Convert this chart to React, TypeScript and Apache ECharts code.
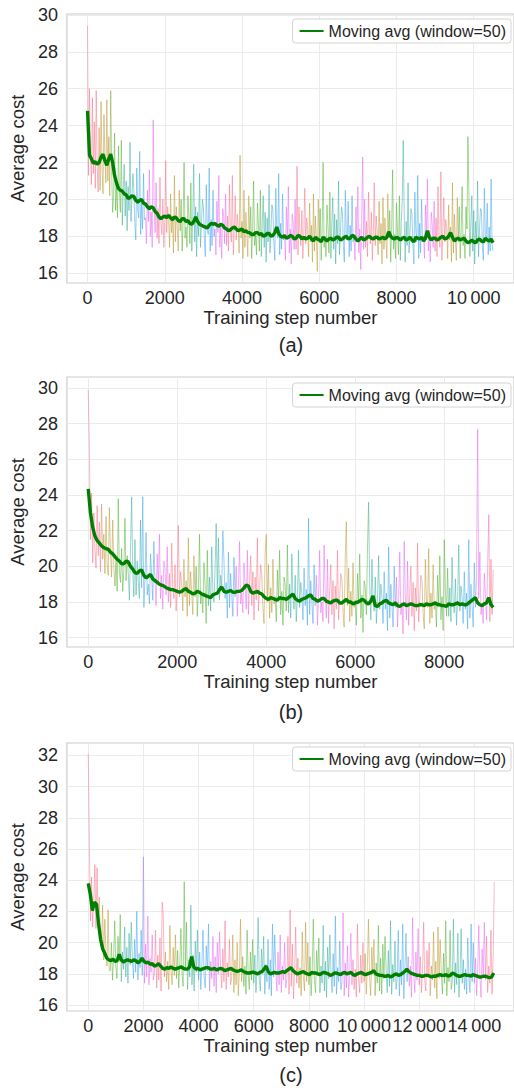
import React, { useEffect, useRef } from "react";
import * as echarts from "echarts";

const FONT = "Liberation Sans, Arial, sans-serif";
const TEXT = "#262626";
const LEGEND_NAME = "Moving avg (window=50)";
const MA_COLOR = "#008000";
// husl palette used for the raw per-chunk traces
const PALETTE = ["#f77189", "#bb9832", "#50b131", "#36ada4", "#3ba3ec", "#e866f4"];

// ---------- panel (a) ----------
// raw cost every 25 steps; one row per colour chunk
const RAW_A_STEP = 25;
const RAW_A = [
  29.4, 21.3, 26.0, 22.6, 20.8, 25.5, 21.4, 24.2, 20.6, 25.9, 21.8, 20.4,
  23.9, 20.5, 25.3, 21.7, 20.3, 24.6, 22.2, 20.9, 25.4, 21.0, 23.4, 20.2,
  25.9, 21.5, 19.3, 20.3, 23.6, 19.4, 20.8, 19.0, 22.9, 20.5, 19.3, 23.2,
  18.6, 20.5, 21.9, 19.1, 21.0, 18.3, 20.7, 19.4, 23.1, 18.8, 20.1, 21.4,
  20.5, 18.7, 17.8, 21.7, 19.4, 19.0, 22.6, 18.1, 19.8, 18.4, 21.4, 18.9,
  19.0, 17.6, 20.5, 18.8, 21.6, 18.0, 19.3, 17.4, 24.3, 19.7, 18.2, 20.9,
  17.9, 19.5, 17.6, 21.2, 18.7, 18.1, 20.0, 17.4, 18.8, 22.1, 18.2, 19.6,
  18.9, 17.4, 20.3, 18.2, 19.1, 17.1, 21.3, 17.7, 19.6, 18.4, 17.2, 20.5,
  18.3, 20.0, 17.2, 18.8, 22.0, 17.9, 18.5, 17.4, 20.2, 19.0, 17.6, 20.9,
  17.2, 19.1, 21.9, 17.7, 19.6, 16.9, 19.3, 18.0, 21.4, 17.4, 18.7, 20.0,
  19.6, 17.8, 16.9, 20.8, 18.5, 18.1, 21.7, 17.2, 18.9, 17.5, 20.5, 18.0,
  18.4, 17.0, 19.9, 18.2, 21.3, 17.4, 18.7, 16.8, 19.5, 19.1, 17.6, 20.3,
  17.5, 19.1, 17.2, 20.8, 18.3, 17.7, 21.3, 17.0, 18.4, 20.2, 17.8, 19.2,
  18.6, 17.1, 22.4, 17.9, 18.8, 16.8, 20.5, 17.4, 19.3, 18.1, 16.9, 20.2,
  17.9, 19.6, 16.8, 18.4, 21.0, 17.5, 18.1, 17.0, 19.8, 18.6, 17.2, 20.5,
  16.9, 18.8, 20.2, 17.4, 19.3, 16.6, 19.0, 17.7, 20.8, 17.1, 18.4, 19.7,
  19.4, 17.6, 16.7, 20.6, 18.3, 17.9, 21.4, 17.0, 18.7, 17.3, 20.3, 17.8,
  18.1, 16.7, 19.6, 17.9, 20.7, 17.1, 18.4, 16.5, 19.2, 18.8, 17.3, 20.0,
  17.3, 21.8, 17.0, 19.6, 18.1, 17.5, 19.4, 16.8, 18.2, 20.6, 17.6, 19.0,
  18.4, 16.9, 19.8, 17.7, 18.6, 16.6, 20.3, 17.2, 19.1, 17.9, 16.1, 20.0,
  17.8, 19.5, 16.7, 18.3, 22.0, 17.4, 18.0, 16.9, 19.7, 18.5, 17.1, 20.4,
  16.8, 18.7, 20.1, 17.3, 19.2, 16.5, 18.9, 17.6, 21.0, 17.0, 18.3, 19.6,
  19.3, 17.5, 16.6, 20.5, 18.2, 17.8, 19.9, 16.9, 18.6, 17.2, 20.2, 17.7,
  18.1, 16.7, 19.6, 17.9, 20.7, 17.1, 18.4, 16.2, 19.2, 22.3, 17.3, 20.0,
  17.4, 18.8, 16.9, 20.4, 18.2, 17.6, 19.3, 16.7, 18.3, 20.9, 17.5, 19.1,
  18.3, 17.0, 19.9, 17.6, 18.7, 16.5, 20.1, 17.3, 19.0, 17.8, 16.8, 20.3,
  17.9, 19.4, 16.6, 18.4, 21.6, 17.3, 18.1, 16.8, 19.8, 18.4, 17.0, 20.2,
  16.7, 18.8, 20.0, 23.2, 19.1, 16.6, 18.8, 17.5, 20.9, 17.1, 18.2, 19.5,
  19.2, 17.6, 16.5, 20.4, 18.3, 17.7, 21.3, 16.8, 18.7, 17.1, 20.0, 17.8,
  18.0, 16.8, 19.7, 17.8, 21.1, 17.2, 18.3, 16.6, 19.3, 18.7, 17.4, 19.9,
  17.2, 19.0, 16.9, 20.7, 18.0, 17.4, 21.5, 16.7, 18.3, 20.1, 17.7, 18.9,
  18.5, 16.8, 19.7, 17.8, 18.5, 16.6, 20.9, 17.1, 19.2, 17.8, 16.7, 20.1,
  17.7, 19.6, 16.8, 18.2, 20.7, 17.5, 18.1, 16.8, 19.6, 18.4, 23.4, 20.3,
  16.9, 18.6, 20.2, 17.2, 19.4, 16.5, 18.8, 17.7, 21.0, 16.9, 18.4, 19.5,
  19.4, 17.4, 16.7, 20.6, 18.1, 17.9, 19.8, 17.0, 18.5, 17.2, 21.1, 17.6,
  17.2,
];
// moving average every 50 steps
const MA_A_STEP = 50;
const MA_A = [
  24.8, 22.4, 22.2, 21.95, 22.05, 21.9, 22.0, 22.3, 22.45, 22.1,
  21.85, 22.2, 22.45, 22.0, 21.3, 20.9, 20.6, 20.5, 20.45, 20.3,
  20.25, 20.05, 20.1, 20.2, 20.15, 19.95, 19.85, 19.95, 20.0, 19.8,
  19.75, 19.6, 19.5, 19.6, 19.55, 19.35, 19.25, 19.05, 18.95, 19.05,
  19.1, 19.0, 19.15, 19.0, 18.9, 19.05, 19.0, 18.85, 18.8, 18.95,
  18.95, 18.8, 18.85, 18.7, 18.65, 18.8, 19.05, 18.8, 18.65, 18.6,
  18.55, 18.5, 18.45, 18.6, 18.7, 18.65, 18.7, 18.6, 18.55, 18.65,
  18.6, 18.45, 18.4, 18.3, 18.35, 18.45, 18.5, 18.4, 18.3, 18.35,
  18.4, 18.25, 18.3, 18.2, 18.2, 18.1, 18.1, 18.2, 18.2, 18.1,
  18.15, 18.0, 18.05, 18.15, 18.15, 18.0, 18.05, 18.2, 18.5, 18.15,
  18.0, 17.95, 18.05, 17.9, 17.95, 18.05, 18.0, 17.85, 17.9, 18.05,
  18.0, 17.85, 17.95, 17.85, 17.9, 18.0, 17.85, 17.75, 17.95, 17.85,
  17.8, 17.7, 17.95, 17.85, 17.75, 17.85, 17.9, 17.8, 17.85, 17.95,
  17.95, 17.8, 17.85, 17.95, 18.0, 17.85, 17.9, 18.05, 18.0, 17.85,
  17.75, 17.85, 17.95, 17.8, 17.85, 17.95, 18.0, 17.9, 17.85, 17.95,
  17.95, 17.85, 17.9, 17.95, 17.85, 17.95, 18.25, 18.0, 17.9, 17.85,
  17.95, 17.9, 17.8, 17.9, 17.95, 17.8, 17.85, 17.95, 17.8, 17.7,
  17.95, 17.9, 17.85, 17.95, 17.75, 17.9, 18.3, 17.95, 17.8, 17.9,
  17.9, 17.8, 17.85, 17.95, 18.0, 17.85, 17.9, 18.0, 18.2, 17.95,
  17.75, 17.85, 17.9, 17.8, 17.85, 17.9, 17.75, 17.65, 17.7, 17.8,
  17.7, 17.65, 17.8, 17.85, 17.75, 17.7, 17.9, 17.8, 17.75, 17.85, 17.65,
];
const X_TICKS_A = [0, 2000, 4000, 6000, 8000, 10000];
const Y_TICKS_A = [16, 18, 20, 22, 24, 26, 28, 30];

// ---------- panel (b) ----------
const RAW_B_STEP = 25;
const RAW_B = [
  29.9, 26.7, 21.5, 24.1, 20.2, 23.0, 21.0, 19.9, 23.4, 20.6, 22.5, 19.7,
  23.5, 20.4, 21.8, 19.6, 22.8, 20.1, 19.5, 23.3, 20.8, 19.4, 22.6, 20.0,
  18.9, 20.5, 18.6, 23.8, 19.7, 19.1, 21.0, 18.6, 19.8, 22.7, 19.2, 20.6,
  19.6, 18.1, 21.0, 23.9, 19.8, 18.3, 21.5, 18.4, 20.3, 19.1, 18.2, 22.6,
  18.8, 23.9, 17.7, 19.3, 21.9, 18.4, 19.0, 17.9, 20.7, 19.5, 18.1, 21.4,
  19.2, 17.8, 20.7, 19.0, 21.8, 18.2, 19.5, 17.6, 20.3, 19.9, 18.4, 21.1,
  18.0, 19.6, 17.7, 21.3, 18.8, 18.2, 20.1, 17.5, 18.9, 22.3, 18.3, 19.7,
  19.0, 17.5, 20.4, 18.3, 19.2, 17.2, 21.6, 17.8, 19.7, 18.5, 17.3, 20.6,
  18.3, 20.0, 17.2, 18.8, 21.8, 17.9, 18.5, 17.4, 20.2, 19.0, 16.8, 20.9,
  17.8, 19.4, 17.5, 21.1, 18.6, 18.0, 19.9, 22.4, 18.7, 21.6, 18.1, 19.5,
  18.9, 22.0, 20.3, 18.2, 19.1, 17.1, 20.8, 17.7, 19.6, 18.4, 17.2, 20.5,
  18.3, 20.0, 17.2, 18.8, 21.4, 17.9, 18.5, 17.4, 20.2, 19.0, 17.6, 20.9,
  17.3, 19.2, 20.6, 17.8, 19.7, 17.0, 19.4, 18.1, 21.6, 17.5, 18.8, 20.1,
  19.5, 17.7, 16.8, 20.7, 21.8, 18.0, 20.1, 17.1, 18.8, 17.4, 20.4, 17.9,
  18.3, 16.9, 19.8, 18.1, 20.9, 17.3, 18.6, 16.7, 19.4, 19.0, 17.5, 21.2,
  17.4, 19.0, 17.1, 20.7, 18.2, 17.6, 19.5, 16.9, 18.3, 20.9, 17.7, 19.1,
  18.5, 17.0, 19.9, 17.8, 18.7, 16.7, 22.7, 17.3, 19.2, 18.0, 16.8, 20.1,
  17.8, 19.5, 16.7, 18.3, 20.9, 17.4, 18.0, 16.9, 21.2, 18.5, 17.1, 20.4,
  16.8, 18.7, 20.1, 17.3, 19.2, 16.5, 18.9, 17.6, 20.9, 17.0, 18.3, 19.6,
  19.3, 17.5, 16.6, 20.5, 22.5, 17.8, 19.9, 16.9, 18.6, 17.2, 20.2, 17.7,
  18.1, 16.7, 19.6, 17.9, 20.7, 17.1, 18.4, 16.3, 19.2, 18.8, 17.3, 21.0,
  23.6, 18.9, 17.0, 20.4, 18.1, 17.5, 19.4, 16.8, 18.2, 20.6, 17.6, 19.0,
  18.3, 16.8, 19.7, 17.6, 18.5, 16.4, 21.1, 17.1, 19.0, 17.8, 16.6, 20.0,
  17.7, 19.4, 16.6, 18.2, 20.8, 17.3, 17.9, 16.2, 21.4, 18.4, 17.0, 20.3,
  16.7, 18.6, 20.0, 17.2, 19.1, 16.4, 18.8, 17.5, 21.3, 16.9, 18.2, 19.5,
  19.2, 17.4, 16.5, 20.4, 18.1, 17.7, 21.0, 16.8, 18.5, 17.1, 20.1, 17.6,
  18.0, 16.6, 19.5, 17.8, 20.6, 17.0, 18.3, 16.4, 21.5, 18.7, 17.2, 19.9,
  17.2, 18.8, 16.9, 20.5, 18.0, 17.4, 19.3, 16.7, 18.1, 21.2, 17.5, 18.9,
  18.3, 16.8, 19.7, 17.6, 18.5, 16.5, 21.5, 17.1, 19.0, 17.8, 16.6, 20.2,
  17.7, 19.4, 27.7, 18.2, 20.8, 17.3, 17.9, 16.8, 19.6, 18.4, 17.0, 20.1,
  22.9, 16.9, 20.4, 17.3, 19.8,
];
const MA_B_STEP = 50;
const MA_B = [
  24.35, 23.0, 22.2, 21.7, 21.45, 21.3, 21.15, 21.05, 21.0, 20.95,
  20.8, 20.7, 20.55, 20.4, 20.3, 20.15, 20.15, 20.3, 20.25, 20.0,
  19.85, 19.65, 19.6, 19.75, 19.8, 19.5, 19.35, 19.45, 19.55, 19.3,
  19.2, 19.1, 19.0, 18.95, 18.9, 18.8, 18.75, 18.7, 18.7, 18.65,
  18.6, 18.55, 18.6, 18.7, 18.75, 18.6, 18.55, 18.45, 18.5, 18.6,
  18.55, 18.45, 18.4, 18.35, 18.3, 18.25, 18.4, 18.45, 18.5, 18.7,
  18.85, 18.6, 18.55, 18.6, 18.65, 18.55, 18.55, 18.6, 18.6, 18.65,
  18.8, 18.95, 18.9, 18.6, 18.5, 18.55, 18.6, 18.5, 18.45, 18.3,
  18.2, 18.15, 18.25, 18.2, 18.15, 18.1, 18.25, 18.2, 18.2, 18.15,
  18.25, 18.35, 18.45, 18.2, 18.1, 18.05, 18.15, 18.2, 18.25, 18.35,
  18.4, 18.2, 18.15, 18.05, 18.1, 18.2, 18.2, 18.05, 18.0, 17.95,
  18.05, 18.1, 18.1, 17.95, 17.95, 18.05, 18.15, 18.0, 18.0, 17.9,
  17.95, 18.0, 18.05, 18.15, 18.1, 17.95, 17.9, 18.05, 18.35, 17.8,
  17.75, 17.9, 17.95, 18.05, 18.1, 17.95, 17.9, 17.85, 17.95, 17.8,
  17.75, 17.85, 17.9, 17.8, 17.85, 17.9, 17.85, 17.8, 17.8, 17.85,
  17.85, 17.8, 17.9, 17.85, 17.85, 17.9, 17.95, 17.85, 17.85, 17.8,
  17.8, 17.75, 17.9, 17.85, 17.85, 17.9, 17.95, 17.85, 17.9, 17.85,
  17.85, 17.95, 18.05, 18.15, 18.25, 17.95, 17.85, 17.8, 17.9, 17.95,
  18.25, 17.85, 17.7,
];
const X_TICKS_B = [0, 2000, 4000, 6000, 8000];
const Y_TICKS_B = [16, 18, 20, 22, 24, 26, 28, 30];

// ---------- panel (c) ----------
const RAW_C_STEP = 40;
const RAW_C = [
  32.1, 26.3, 21.4, 24.2, 21.0, 22.6, 25.0, 20.9, 24.8, 21.3,
  22.9, 20.2, 19.6, 22.4, 18.9, 21.5, 19.4, 18.5, 22.1, 18.2,
  18.2, 20.0, 17.6, 19.1, 21.4, 18.5, 17.7, 20.4, 18.8, 21.8,
  17.5, 19.4, 18.3, 21.0, 17.8, 19.7, 17.4, 20.6, 18.6, 21.3,
  19.0, 17.7, 20.2, 18.1, 22.0, 17.6, 19.3, 18.4, 20.8, 17.9,
  25.5, 17.4, 19.9, 17.8, 21.7, 17.3, 19.0, 18.1, 20.5, 17.6,
  18.0, 20.8, 17.1, 19.2, 17.6, 20.3, 16.9, 22.6, 21.8, 17.8,
  19.4, 17.5, 18.8, 17.0, 21.1, 18.2, 17.3, 19.7, 17.9, 20.5,
  17.7, 19.5, 17.1, 18.6, 20.9, 18.0, 17.2, 23.9, 18.3, 21.3,
  17.0, 18.9, 17.8, 22.4, 17.3, 19.2, 16.9, 20.1, 18.1, 20.8,
  17.6, 19.4, 17.0, 18.5, 20.8, 17.9, 17.1, 19.8, 18.2, 21.2,
  16.9, 18.8, 17.7, 20.4, 17.2, 19.1, 16.8, 20.0, 18.0, 20.7,
  18.4, 17.1, 19.6, 17.5, 21.4, 17.0, 18.7, 17.8, 20.2, 17.3,
  17.7, 20.5, 16.8, 18.9, 17.3, 20.0, 16.6, 18.2, 21.5, 17.5,
  19.1, 17.2, 18.5, 16.7, 20.8, 17.9, 17.0, 19.4, 17.6, 20.2,
  17.4, 19.2, 16.8, 18.3, 21.6, 17.7, 16.9, 19.6, 18.0, 20.4,
  16.7, 18.6, 17.5, 20.2, 17.0, 18.9, 16.6, 21.2, 17.8, 20.5,
  18.2, 16.9, 19.4, 17.3, 20.5, 16.8, 18.5, 17.6, 20.0, 17.1,
  17.6, 20.4, 16.7, 22.1, 17.2, 19.9, 16.4, 18.1, 21.0, 17.4,
  19.0, 17.1, 18.4, 16.6, 20.7, 17.8, 16.9, 21.3, 17.5, 20.0,
  17.3, 19.1, 16.6, 18.2, 21.5, 17.6, 16.8, 19.5, 17.9, 20.3,
  16.8, 18.5, 17.4, 21.1, 16.9, 18.8, 16.5, 19.7, 17.7, 20.5,
  18.1, 16.8, 19.3, 17.2, 21.7, 16.7, 18.4, 17.5, 20.1, 17.0,
  17.5, 21.9, 16.6, 18.7, 17.1, 19.8, 16.5, 18.0, 20.6, 17.3,
  18.9, 17.0, 18.3, 16.5, 21.2, 17.7, 16.8, 19.2, 17.4, 20.0,
  17.5, 19.3, 16.7, 18.4, 21.5, 17.8, 16.6, 19.7, 18.1, 20.2,
  16.6, 18.7, 17.4, 21.1, 16.9, 19.0, 16.7, 19.9, 17.7, 20.4,
  18.3, 16.8, 19.5, 17.2, 21.4, 16.7, 18.6, 17.5, 20.1, 17.0,
  17.7, 20.8, 16.6, 18.9, 17.3, 21.2, 16.4, 18.2, 20.6, 17.5,
  19.1, 17.2, 18.5, 16.5, 21.6, 17.9, 16.8, 19.4, 17.6, 20.9,
  17.3, 19.1, 16.8, 18.2, 21.3, 17.6, 16.9, 19.5, 17.9, 20.0,
  16.6, 18.5, 17.6, 20.7, 17.1, 18.8, 16.4, 21.0, 17.7, 20.2,
  18.1, 16.7, 19.3, 17.4, 21.4, 16.6, 18.4, 17.5, 20.8, 17.0,
  17.5, 21.5, 16.8, 18.7, 17.3, 20.6, 16.5, 18.0, 20.9, 17.4,
  18.9, 17.0, 18.3, 16.7, 20.3, 17.7, 16.8, 21.2, 17.5, 20.0,
  17.4, 19.0, 16.6, 18.3, 21.1, 17.8, 16.5, 19.6, 18.0, 21.3,
  17.6, 20.4, 16.8, 18.5, 17.4, 20.8, 16.7, 19.2, 23.9,
];
const MA_C_STEP = 75;
const MA_C = [
  23.8, 23.1, 22.05, 22.6, 22.45, 21.2, 20.2, 19.6, 19.3, 19.0,
  18.9, 18.85, 18.95, 18.8, 18.85, 19.25, 18.9, 18.75, 18.85, 18.9,
  18.85, 18.8, 18.9, 18.85, 18.7, 18.8, 19.0, 18.8, 18.7, 18.75,
  18.6, 18.65, 18.5, 18.55, 18.65, 18.5, 18.35, 18.3, 18.4, 18.35,
  18.45, 18.35, 18.3, 18.35, 18.4, 18.45, 18.35, 18.3, 18.3, 18.45,
  19.1, 18.45, 18.3, 18.35, 18.25, 18.3, 18.35, 18.4, 18.4, 18.3,
  18.3, 18.35, 18.25, 18.3, 18.35, 18.3, 18.2, 18.25, 18.3, 18.35,
  18.25, 18.2, 18.15, 18.2, 18.25, 18.15, 18.1, 18.05, 18.05, 18.1,
  18.1, 18.05, 18.0, 18.1, 18.15, 18.3, 18.5, 18.15, 18.0, 18.05,
  18.1, 18.05, 18.05, 18.1, 18.15, 18.1, 18.2, 18.3, 18.4, 18.2,
  18.1, 18.0, 18.05, 18.1, 18.15, 18.05, 18.0, 17.95, 18.1, 18.05,
  18.05, 18.0, 17.95, 18.05, 18.1, 18.05, 18.0, 17.9, 17.95, 18.05,
  18.05, 18.0, 17.95, 18.05, 18.1, 18.0, 18.05, 18.1, 17.95, 17.9,
  18.0, 18.05, 18.1, 18.0, 17.95, 18.0, 18.05, 18.1, 18.2, 18.0,
  17.95, 17.9, 17.9, 17.85, 17.85, 17.9, 17.8, 17.85, 17.95, 18.0,
  17.9, 17.95, 18.05, 18.15, 18.3, 18.15, 18.05, 18.0, 17.95, 17.9,
  17.9, 17.85, 17.85, 17.9, 17.9, 17.85, 17.8, 17.85, 17.85, 17.9,
  17.95, 17.9, 17.9, 17.95, 17.85, 17.9, 18.05, 18.0, 17.9, 17.85,
  17.85, 17.9, 17.95, 17.9, 17.9, 17.85, 17.95, 17.9, 17.85, 17.8,
  17.8, 17.85, 17.85, 17.8, 17.75, 17.8, 18.05,
];
const X_TICKS_C = [0, 2000, 4000, 6000, 8000, 10000, 12000, 14000];
const Y_TICKS_C = [16, 18, 20, 22, 24, 26, 28, 30, 32];

// layout of the three stacked panels
const PANELS = [
  {
    tag: "a", raw: RAW_A, rawStep: RAW_A_STEP, chunk: 12, ma: MA_A, maStep: MA_A_STEP,
    xTicks: X_TICKS_A, yTicks: Y_TICKS_A, xMin: -534, xMax: 11043, yMin: 15.47, yMax: 30.05,
    top: 14, height: 269, legendTop: 19, captionY: 345,
  },
  {
    tag: "b", raw: RAW_B, rawStep: RAW_B_STEP, chunk: 12, ma: MA_B, maStep: MA_B_STEP,
    xTicks: X_TICKS_B, yTicks: Y_TICKS_B, xMin: -479, xMax: 9567, yMin: 15.48, yMax: 30.62,
    top: 377, height: 270, legendTop: 383, captionY: 712,
  },
  {
    tag: "c", raw: RAW_C, rawStep: RAW_C_STEP, chunk: 10, ma: MA_C, maStep: MA_C_STEP,
    xTicks: X_TICKS_C, yTicks: Y_TICKS_C, xMin: -773, xMax: 15436, yMin: 15.62, yMax: 32.79,
    top: 743, height: 268, legendTop: 747, captionY: 1075,
  },
];

const formatStep = (v: number) =>
  v >= 10000 ? String(v).replace(/\B(?=(\d{3})+(?!\d))/g, "\u2009") : String(v);

function rawSeries(p: any, g: number) {
  return PALETTE.map((color, k) => ({
    type: "line",
    name: `raw-${p.tag}-${k}`,
    xAxisIndex: g,
    yAxisIndex: g,
    symbol: "none",
    silent: true,
    connectNulls: false,
    z: 6,
    lineStyle: { width: 1, color, opacity: 0.5 },
    itemStyle: { color },
    data: p.raw.map((v: number, i: number) => {
      const c = Math.floor(i / p.chunk);
      const prev = i > 0 ? Math.floor((i - 1) / p.chunk) : c;
      const own = c % PALETTE.length === k;
      const closes = c !== prev && prev % PALETTE.length === k;
      return [i * p.rawStep, own || closes ? v : "-"];
    }),
  }));
}

function buildOption() {
  const grid: any[] = [];
  const xAxis: any[] = [];
  const yAxis: any[] = [];
  const legend: any[] = [];
  const series: any[] = [];
  const graphic: any[] = [];

  PANELS.forEach((p, g) => {
    grid.push({
      left: 64, right: -5, top: p.top, height: p.height,
      show: true, borderColor: "#cccccc", borderWidth: 1.2, backgroundColor: "transparent",
    });
    xAxis.push({
      type: "value", gridIndex: g, min: p.xMin, max: p.xMax,
      axisLine: { show: false }, axisTick: { show: false }, splitLine: { show: false },
      axisLabel: {
        customValues: p.xTicks, formatter: formatStep, fontSize: 18, color: TEXT,
        fontFamily: FONT, margin: 6,
      },
      name: "Training step number", nameLocation: "middle", nameGap: 22,
      nameTextStyle: { fontSize: 18.5, color: TEXT, fontFamily: FONT },
    });
    yAxis.push({
      type: "value", gridIndex: g, min: p.yMin, max: p.yMax,
      axisLine: { show: false }, axisTick: { show: false }, splitLine: { show: false },
      axisLabel: { customValues: p.yTicks, fontSize: 18, color: TEXT, fontFamily: FONT, margin: 9 },
      name: "Average cost", nameLocation: "middle", nameGap: 36,
      nameTextStyle: { fontSize: 18.5, color: TEXT, fontFamily: FONT },
    });
    legend.push({
      data: [LEGEND_NAME], right: 3, top: p.legendTop, z: 20,
      itemWidth: 24, itemHeight: 3, itemStyle: { opacity: 0 },
      padding: [4, 5, 4, 6], borderColor: "#d4d4d4", borderWidth: 1, borderRadius: 3,
      backgroundColor: "#ffffff",
      textStyle: { fontSize: 16, color: TEXT, fontFamily: FONT },
    });
    // light grid lines behind the data
    series.push({
      type: "line", name: `grid-${p.tag}`, xAxisIndex: g, yAxisIndex: g, data: [],
      silent: true, z: 1,
      markLine: {
        silent: true, z: 1, symbol: ["none", "none"], label: { show: false },
        lineStyle: { color: "#ebebeb", width: 1, type: "solid" },
        emphasis: { disabled: true },
        data: [
          ...p.xTicks.map((x: number) => ({ xAxis: x })),
          ...p.yTicks.map((y: number) => ({ yAxis: y })),
        ],
      },
    });
    series.push(...rawSeries(p, g));
    series.push({
      type: "line", name: LEGEND_NAME, xAxisIndex: g, yAxisIndex: g,
      symbol: "none", silent: true, z: 8,
      lineStyle: { color: MA_COLOR, width: 3.4 },
      itemStyle: { color: MA_COLOR },
      data: p.ma.map((v: number, i: number) => [i * p.maStep, v]),
    });
    graphic.push({
      type: "text", x: 291, y: p.captionY,
      style: {
        text: `(${p.tag})`, fontSize: 20, fontFamily: FONT, fill: TEXT,
        align: "center", verticalAlign: "middle",
      },
    });
  });

  return {
    animation: false,
    backgroundColor: "#ffffff",
    grid, xAxis, yAxis, legend, series, graphic,
  };
}

export default function App() {
  const ref = useRef<HTMLDivElement>(null);
  useEffect(() => {
    if (!ref.current) return;
    const chart = echarts.init(ref.current, undefined, { renderer: "svg" });
    chart.setOption(buildOption() as any);
    return () => chart.dispose();
  }, []);
  return (
    <div
      ref={ref}
      style={{ position: "absolute", left: 0, top: 0, width: 514, height: 1088 }}
    />
  );
}
